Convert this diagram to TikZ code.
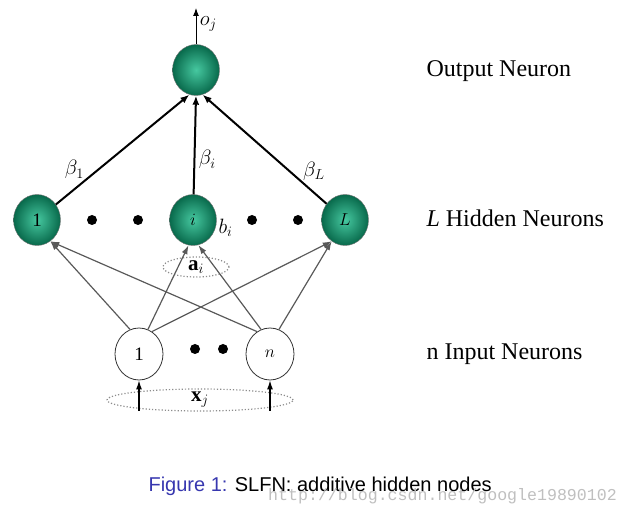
\documentclass[tikz,border=0pt]{standalone}
\usepackage{fontspec}
\setmainfont{Liberation Serif}
\newfontfamily\capfont{Liberation Sans}
\newfontfamily\wmfont{Liberation Mono}
\usetikzlibrary{arrows.meta,shapes.geometric}
\definecolor{nlight}{RGB}{70,200,160}
\definecolor{ndark}{RGB}{8,105,75}
\definecolor{figblue}{RGB}{55,55,175}
\tikzset{
  hidden/.style={ellipse,minimum width=47,minimum height=51,inner sep=0,shading=radial,inner color=nlight,outer color=ndark,draw=black!55,font=\fontsize{19}{19}\selectfont},
  inputn/.style={ellipse,minimum width=48,minimum height=52,inner sep=0,draw=black!80,fill=white,line width=0.8,font=\fontsize{19}{19}\selectfont},
  dotn/.style={circle,fill=black,inner sep=0,minimum size=10},
  weight/.style={-{Latex[length=9,width=7]},line width=2},
  conn/.style={-{Latex[length=9,width=6]},draw=black!65,line width=1.2},
  feed/.style={-{Latex[length=9,width=6]},line width=1.2},
  biasring/.style={ellipse,draw=black!45,dotted,line width=1.2,inner sep=0},
  layerlabel/.style={anchor=base west,font=\fontsize{24}{24}\selectfont},
  lbl/.style={font=\fontsize{21}{21}\selectfont}
}
\begin{document}
\begin{tikzpicture}[x=1pt,y=-1pt]
\useasboundingbox (0,0) rectangle (630,521);
\node[hidden] (out) at (196,70) {};
\node[hidden] (h1) at (37,220) {1};
\node[hidden] (hi) at (193,220) {$i$};
\node[hidden] (hL) at (345,220) {$L$};
\node[dotn] (d1) at (92,220) {};
\node[dotn] (d2) at (138,220) {};
\node[dotn] (d3) at (252,220) {};
\node[dotn] (d4) at (298,220) {};
\node[inputn] (in1) at (139,354) {1};
\node[inputn] (inN) at (270,354) {$n$};
\node[dotn] (d5) at (195,349) {};
\node[dotn] (d6) at (223,349) {};
\node[biasring,minimum width=66,minimum height=20,lbl] (ai) at (196,267) {$\mathbf{a}_i$};
\node[biasring,minimum width=186,minimum height=21,lbl] (xj) at (200,400) {$\mathbf{x}_j$};
\coordinate (oj) at (196,8);
\coordinate (x1) at (139,411);
\coordinate (xn) at (270,411);
\draw[weight] (h1) -- (out.255) node[pos=0.22,above left=-3pt,lbl] {$\beta_1$};
\draw[weight] (hi) -- (out.south) node[pos=0.35,right,lbl] {$\beta_i$};
\draw[weight] (hL) -- (out.285) node[pos=0.2,above right=-3pt,lbl] {$\beta_L$};
\draw[-{Latex[length=8,width=6]},line width=1] (out) -- (oj) node[pos=0.55,right,lbl] {$o_j$};
\node[lbl,anchor=west] (bi) at (215,228) {$b_i$};
\draw[conn] (in1.110) -- (h1.-58);
\draw[conn] (inN.120) -- (h1.-58);
\draw[conn] (in1.70) -- (hi.-100);
\draw[conn] (inN.110) -- (hi.-78);
\draw[conn] (in1.60) -- (hL.-122);
\draw[conn] (inN.70) -- (hL.-122);
\draw[feed] (x1) -- (in1);
\draw[feed] (xn) -- (inN);
\node[layerlabel] (lout) at (423,77) {Output Neuron};
\node[layerlabel] (lhid) at (423,227) {\textit{L} Hidden Neurons};
\node[layerlabel] (lin) at (423,360) {n Input Neurons};
\node[anchor=base west,font=\capfont\fontsize{20}{20}\selectfont] (cap) at (145,492) {\textcolor{figblue}{Figure 1:} SLFN: additive hidden nodes};
\node[anchor=base west,text=black!25,font=\wmfont\fontsize{16.6}{16.6}\selectfont,inner sep=0] (wm) at (268,501) {http://blog.csdn.net/google19890102};
\end{tikzpicture}
\end{document}
